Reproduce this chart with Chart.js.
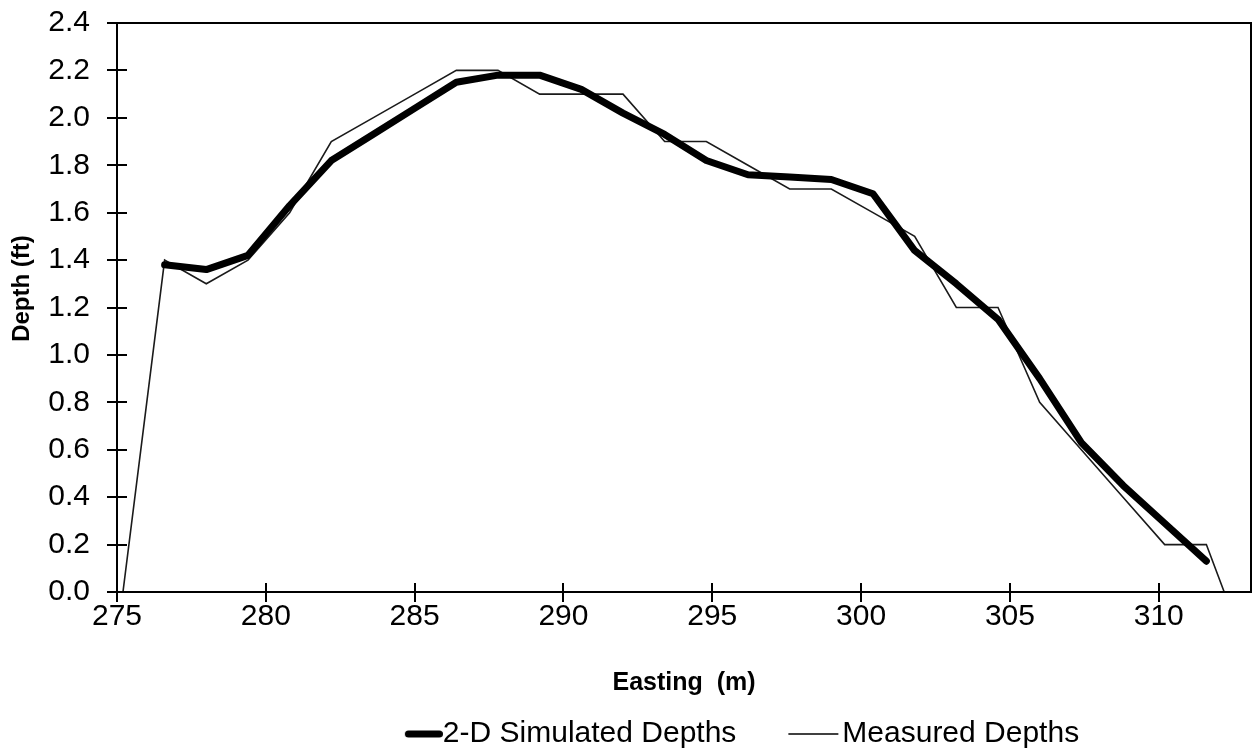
<!DOCTYPE html>
<html>
<head>
<meta charset="utf-8">
<script src="https://cdn.jsdelivr.net/npm/chart.js@4.4.1/dist/chart.umd.min.js"></script>
<style>
  html, body { margin: 0; padding: 0; background: #fff; }
  #wrap { width: 1254px; height: 753px; position: relative; }
</style>
</head>
<body>
<div id="wrap"><canvas id="chart" width="1254" height="753"></canvas></div>
<script>
// Easting (m) and depth (ft) along the cross-section
const simEasting = [276.6, 278.0, 279.4, 280.8, 282.2, 283.6, 285.0, 286.4, 287.8, 289.2, 290.6, 292.0,
                    293.4, 294.8, 296.2, 297.6, 299.0, 300.4, 301.8, 303.2, 304.6, 306.0, 307.4, 308.8,
                    310.2, 311.6];
const simDepth    = [1.38, 1.36, 1.42, 1.63, 1.82, 1.93, 2.04, 2.15, 2.18, 2.18, 2.12, 2.02,
                    1.93, 1.82, 1.76, 1.75, 1.74, 1.68, 1.44, 1.30, 1.15, 0.90, 0.63, 0.45,
                    0.29, 0.13];

const measEasting = [275.2, 276.6, 278.0, 279.4, 280.8, 282.2, 283.6, 285.0, 286.4, 287.8, 289.2, 290.6,
                     292.0, 293.4, 294.8, 296.2, 297.6, 299.0, 300.4, 301.8, 303.2, 304.6, 306.0, 307.4,
                     308.8, 310.2, 311.6, 312.2];
const measDepth   = [0.0, 1.4, 1.3, 1.4, 1.6, 1.9, 2.0, 2.1, 2.2, 2.2, 2.1, 2.1,
                     2.1, 1.9, 1.9, 1.8, 1.7, 1.7, 1.6, 1.5, 1.2, 1.2, 0.8, 0.6,
                     0.4, 0.2, 0.2, 0.0];

const seriesNames = ['2-D Simulated Depths', 'Measured Depths'];
const xTitle = 'Easting  (m)';
const yTitle = 'Depth (ft)';

const xRange = { min: 275, max: 313.1, step: 5 };
const yRange = { min: 0, max: 2.4, step: 0.2 };

const FONT = '"Liberation Sans", Arial, sans-serif';

const legendFontSize = 30;
const legendBoxW = 76;
const legendShift = 90;

// Legend sample: a short line ending at (or just before) its label
function legendSample(lineW, len, gapRight, round) {
  const half = legendFontSize / 2;
  const w = legendBoxW + 2 * half;
  const h = 12;
  const c = document.createElement('canvas');
  c.width = w; c.height = h;
  const g = c.getContext('2d');
  g.strokeStyle = '#000';
  g.lineWidth = lineW;
  g.lineCap = round ? 'round' : 'butt';
  const inset = round ? lineW / 2 : 0;
  const x1 = w - gapRight - inset;
  g.beginPath();
  g.moveTo(x1 - len + 2 * inset, h / 2);
  g.lineTo(x1, h / 2);
  g.stroke();
  return c;
}

const toPoints = (xs, ys) => xs.map((x, i) => ({ x, y: ys[i] }));

// Full frame around the plot, ticks crossing the axes, and the vertical axis title
const frameAndTicks = {
  id: 'frameAndTicks',
  afterLayout(chart) {
    // nudge the legend row to the right of centre
    chart.legend.left += legendShift;
    chart.legend.right += legendShift;
  },
  afterDatasetsDraw(chart) {
    const { ctx, chartArea: a, scales } = chart;
    ctx.save();
    ctx.strokeStyle = '#000';
    ctx.lineWidth = 2;
    ctx.strokeRect(a.left, a.top, a.right - a.left, a.bottom - a.top);
    ctx.beginPath();
    scales.y.ticks.forEach(t => {
      const p = Math.round(scales.y.getPixelForValue(t.value));
      ctx.moveTo(a.left - 10, p); ctx.lineTo(a.left + 10, p);
    });
    scales.x.ticks.forEach(t => {
      const p = Math.round(scales.x.getPixelForValue(t.value));
      ctx.moveTo(p, a.bottom - 9); ctx.lineTo(p, a.bottom + 10);
    });
    ctx.stroke();

    ctx.translate(22, (a.top + a.bottom) / 2 - 19);
    ctx.rotate(-Math.PI / 2);
    ctx.fillStyle = '#000';
    ctx.font = 'bold 24px ' + FONT;
    ctx.textAlign = 'center';
    ctx.textBaseline = 'middle';
    ctx.fillText(yTitle, 0, 0);
    ctx.restore();
  }
};

new Chart(document.getElementById('chart'), {
  type: 'scatter',
  data: {
    datasets: [
      {
        label: seriesNames[0],
        data: toPoints(simEasting, simDepth),
        showLine: true,
        borderColor: '#000',
        backgroundColor: '#000',
        borderWidth: 7,
        borderJoinStyle: 'round',
        borderCapStyle: 'round',
        pointRadius: 0,
        pointHoverRadius: 0,
        pointStyle: legendSample(7, 38, 0, true),
        tension: 0
      },
      {
        label: seriesNames[1],
        data: toPoints(measEasting, measDepth),
        showLine: true,
        borderColor: '#1a1a1a',
        backgroundColor: '#1a1a1a',
        borderWidth: 1.6,
        pointRadius: 0,
        pointHoverRadius: 0,
        pointStyle: legendSample(1.6, 50, 4, false),
        tension: 0
      }
    ]
  },
  options: {
    responsive: false,
    animation: false,
    devicePixelRatio: 1,
    layout: { padding: { left: 0, right: 3, top: 23, bottom: -6 } },
    plugins: {
      tooltip: { enabled: false },
      legend: {
        position: 'bottom',
        labels: {
          usePointStyle: true,
          pointStyleWidth: legendBoxW,
          boxHeight: 12,
          padding: 15,
          color: '#000',
          font: { family: FONT, size: legendFontSize }
        }
      }
    },
    scales: {
      x: {
        type: 'linear',
        min: xRange.min,
        max: xRange.max,
        grid: { display: false },
        border: { display: false },
        ticks: {
          stepSize: xRange.step,
          includeBounds: false,
          color: '#000',
          padding: -1,
          maxRotation: 0,
          font: { family: FONT, size: 30 }
        },
        title: {
          display: true,
          text: xTitle,
          color: '#000',
          font: { family: FONT, size: 25, weight: 'bold' },
          padding: { top: 0, bottom: 6 }
        },
        afterFit(scale) {
          scale.height = 112;
          scale.paddingLeft = 0;
          scale.paddingRight = 0;
        }
      },
      y: {
        type: 'linear',
        min: yRange.min,
        max: yRange.max,
        grid: { display: false },
        border: { display: false },
        ticks: {
          stepSize: yRange.step,
          color: '#000',
          padding: 19,
          font: { family: FONT, size: 30 },
          callback: v => Number(v).toFixed(1)
        },
        title: { display: false },
        afterFit(scale) {
          scale.width = 117;
          scale.paddingTop = 0;
          scale.paddingBottom = 0;
        }
      }
    }
  },
  plugins: [frameAndTicks]
});
</script>
</body>
</html>
